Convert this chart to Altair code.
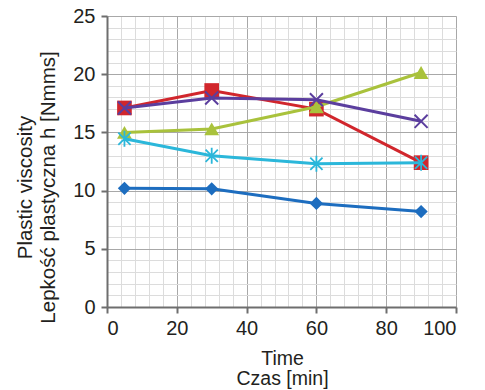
import altair as alt
import pandas as pd

times = [5, 30, 60, 90]
series_names = ["A", "B", "C", "D", "E"]
blue_vals = [10.2, 10.15, 8.9, 8.2]
red_vals = [17.1, 18.6, 17.0, 12.4]
purple_vals = [17.1, 17.95, 17.8, 15.95]
green_vals = [15.0, 15.3, 17.2, 20.15]
cyan_vals = [14.45, 13.0, 12.3, 12.4]

colors = {"A": "#1d6dbf", "B": "#d1262c", "C": "#a9c23c", "D": "#5b3e9e", "E": "#2bb7da"}
values = {"A": blue_vals, "B": red_vals, "C": green_vals, "D": purple_vals, "E": cyan_vals}

X_PATH = "M-1,-1L1,1M1,-1L-1,1"
STAR_PATH = "M-1,-1L1,1M1,-1L-1,1M0,-1.3L0,1.3"
markers = {
    "A": dict(shape="diamond", filled=True, size=175),
    "B": dict(shape="square", filled=True, size=215),
    "C": dict(shape="triangle-up", filled=True, size=220),
    "D": dict(shape=X_PATH, filled=False, size=170, strokeWidth=2),
    "E": dict(shape=STAR_PATH, filled=False, size=150, strokeWidth=1.8),
}

rows = []
for s in series_names:
    for t, v in zip(times, values[s]):
        rows.append({"t": t, "v": v, "s": s})
df = pd.DataFrame(rows)

FONT = "Liberation Sans"
TXT = "#231f20"
xscale = alt.Scale(domain=[0, 100], nice=False, zero=False)
yscale = alt.Scale(domain=[0, 25], nice=False, zero=False)

minor_x = [v for v in range(0, 101, 4) if v % 20 != 0]
minor_y = [v for v in range(0, 26) if v % 5 != 0]

minor = alt.Chart(df).mark_point(opacity=0).encode(
    x=alt.X("t:Q", scale=xscale, axis=alt.Axis(values=minor_x, orient="top", grid=True,
            gridColor="#dcdcdc", gridWidth=1, labels=False, ticks=False, domain=False, title=None)),
    y=alt.Y("v:Q", scale=yscale, axis=alt.Axis(values=minor_y, orient="right", grid=True,
            gridColor="#dcdcdc", gridWidth=1, labels=False, ticks=False, domain=False, title=None)),
)

major = alt.Chart(df).mark_point(opacity=0).encode(
    x=alt.X("t:Q", scale=xscale, axis=alt.Axis(
        values=list(range(0, 101, 20)), orient="bottom", grid=True, gridColor="#a8a8a8", gridWidth=1,
        domainColor="#6e6e6e", domainWidth=2, tickColor="#6e6e6e", tickWidth=2, tickSize=6,
        labelFont=FONT, labelFontSize=20, labelColor=TXT, labelPadding=5,
        title=["Time", "Czas [min]"], titleFont=FONT, titleFontSize=19.5, titleFontWeight="normal",
        titleColor=TXT, titleX=175, titleY=57, titleAlign="center", titleBaseline="alphabetic",
        titleLineHeight=20)),
    y=alt.Y("v:Q", scale=yscale, axis=alt.Axis(
        values=list(range(0, 26, 5)), orient="left", grid=True, gridColor="#a8a8a8", gridWidth=1,
        domainColor="#6e6e6e", domainWidth=2, tickColor="#6e6e6e", tickWidth=2, tickSize=6,
        labelFont=FONT, labelFontSize=20, labelColor=TXT, labelPadding=6,
        title=["Plastic viscosity", "Lepkość plastyczna h [Nmms]"], titleFont=FONT, titleFontSize=20.5,
        titleFontWeight="normal", titleColor=TXT, titleAngle=270, titleX=-76, titleY=171,
        titleAlign="center", titleBaseline="alphabetic", titleLineHeight=23)),
)

layers = [minor, major]
order = ["A", "B", "C", "D", "E"]
for s in order:
    sub = alt.Chart(df).transform_filter(alt.datum.s == s)
    line = sub.mark_line(color=colors[s], strokeWidth=3).encode(
        x=alt.X("t:Q", scale=xscale, axis=None), y=alt.Y("v:Q", scale=yscale, axis=None))
    m = markers[s]
    kw = dict(shape=m["shape"], filled=m["filled"], size=m["size"], opacity=1, color=colors[s])
    if "strokeWidth" in m:
        kw["strokeWidth"] = m["strokeWidth"]
    pts = sub.mark_point(**kw).encode(
        x=alt.X("t:Q", scale=xscale, axis=None), y=alt.Y("v:Q", scale=yscale, axis=None))
    layers += [line, pts]

chart = alt.layer(*layers).resolve_axis(x="independent", y="independent").properties(
    width=349, height=291,
    autosize=alt.AutoSizeParams(type="none"),
    padding={"left": 107, "top": 16, "right": 29, "bottom": 83},
).configure_view(stroke=None).configure(background="white")

chart.save("out.html", embed_options={"renderer": "svg", "actions": False})
